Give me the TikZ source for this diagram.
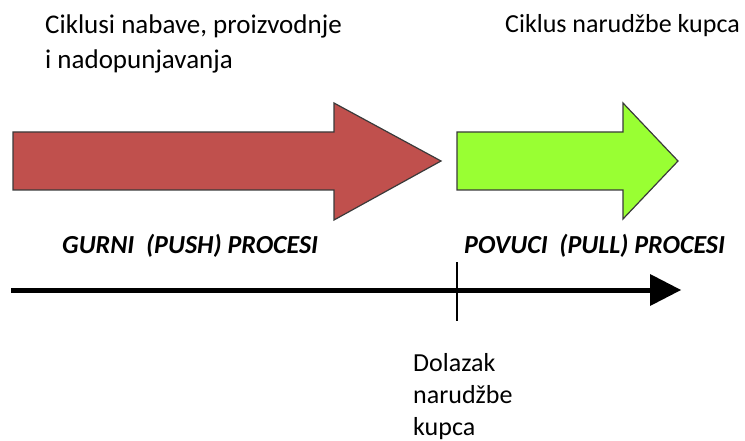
\documentclass[tikz,border=0pt]{standalone}
\usepackage{fontspec}
\setmainfont{Carlito}
\definecolor{pushred}{HTML}{C0504D}
\definecolor{pullgreen}{HTML}{99FF33}
\definecolor{edgegray}{HTML}{3A3A3A}
\begin{document}
\begin{tikzpicture}[x=1pt,y=-1pt,
  lbl/.style={anchor=base west,inner sep=0pt,font=\fontsize{26}{35}\selectfont,align=left},
  proc/.style={anchor=base west,inner sep=0pt,font=\fontsize{26}{30}\selectfont\bfseries\itshape},
  bigarrow/.style={draw=edgegray,line width=1.2pt,line join=miter}]
\useasboundingbox (0,0) rectangle (745,441);
% big arrows
\draw[bigarrow,fill=pushred] (13,132) -- (334,132) -- (334,103) -- (441,161) -- (334,220) -- (334,190) -- (13,190) -- cycle;
\draw[bigarrow,fill=pullgreen] (457,132) -- (623,132) -- (623,103) -- (678,161) -- (623,219) -- (623,190) -- (457,190) -- cycle;
% labels (base anchor = last line's baseline)
\node[lbl,font=\fontsize{27}{35}\selectfont] (cyc1) at (45,69) {Ciklusi nabave, proizvodnje\\i nadopunjavanja};
\node[lbl] (cyc2) at (505,33) {Ciklus narudžbe kupca};
\node[proc] (push) at (62,254) {GURNI\ \ (PUSH) PROCESI};
\node[proc] (pull) at (464,254) {POVUCI\ \ (PULL) PROCESI};
% timeline
\coordinate (tstart) at (11,290);
\coordinate (hb) at (650,290);
\coordinate (tip) at (681,290);
\draw[line width=5pt] (tstart) -- (hb);
\fill (650,274) -- (tip) -- (650,306) -- cycle;
\coordinate (ttop) at (457,262);
\coordinate (tbot) at (457,321);
\draw[line width=1.2pt] (ttop) -- (tbot);
\node[lbl,font=\fontsize{26}{32}\selectfont] (arr) at (413,435) {Dolazak\\narudžbe\\kupca};
\end{tikzpicture}
\end{document}
